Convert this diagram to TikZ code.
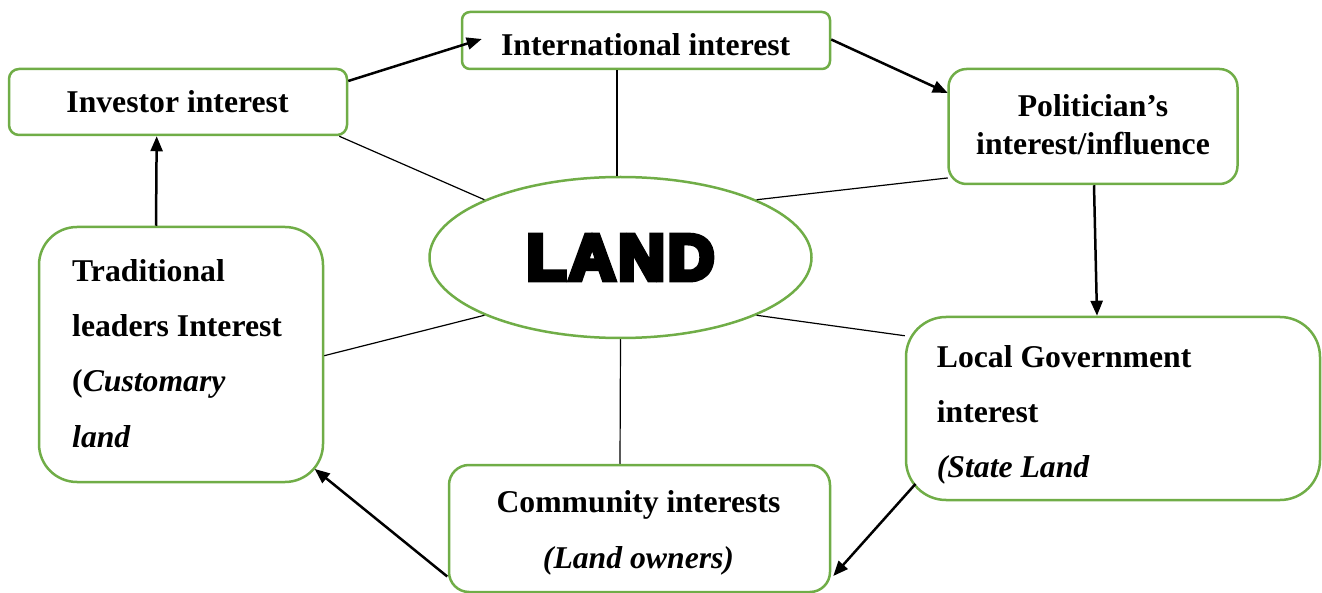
\documentclass[tikz,border=0pt]{standalone}
\usepackage{fontspec}
\setmainfont{Liberation Serif}
\newfontface\landfont{Liberation Sans Bold}[FakeBold=9,LetterSpace=5]
\usetikzlibrary{arrows.meta,shapes.geometric}
\definecolor{leaf}{HTML}{70AD47}
\begin{document}
\begin{tikzpicture}[x=1pt,y=-1pt,
  box/.style={draw=leaf, line width=2.5pt, fill=white, inner sep=0pt},
  lbl/.style={font=\fontsize{31.7}{38}\selectfont\bfseries, inner sep=0pt},
  flow/.style={line width=2.5pt, -{Triangle[length=15pt,width=12pt]}},
  spoke/.style={line width=1.2pt}]
\useasboundingbox (0,0) rectangle (1322,593);

% central ellipse
\node[box, ellipse, minimum width=382, minimum height=161] (land) at (620.5,257.5)
  {\fontsize{64}{70}\landfont LAND};

% interest boxes
\node[box, rounded corners=10pt, minimum width=338, minimum height=66] (inv) at (178,102) {};
\node[box, rounded corners=8pt, minimum width=368, minimum height=57] (intl) at (646,40.5) {};
\node[box, rounded corners=18pt, minimum width=289, minimum height=115] (pol) at (1093,126.5) {};
\node[box, rounded corners=40pt, minimum width=414, minimum height=183] (loc) at (1113,408.5) {};
\node[box, rounded corners=20pt, minimum width=381, minimum height=127] (com) at (639.5,528.5) {};
\node[box, rounded corners=38pt, minimum width=284, minimum height=255] (trad) at (181,354.5) {};

% labels
\node[lbl, anchor=base] (invtxt) at (177.5,113) {Investor interest};
\node[lbl, anchor=base] (intltxt) at (645.7,56) {International interest};
\node[lbl, anchor=north, align=center] (poltxt) at (1093,94.6)
  {Politician’s\\interest/influence};
\node[lbl, anchor=north, align=center, font=\fontsize{31.7}{55.3}\selectfont\bfseries] (comtxt) at (638.5,490.8)
  {Community interests\\\textit{(Land owners)}};
\node[lbl, anchor=north west, align=left, font=\fontsize{31.7}{55.3}\selectfont\bfseries] (tradtxt) at (72,259.2)
  {Traditional\\leaders Interest\\(\textit{Customary}\\\textit{land}};
\node[lbl, anchor=north west, align=left, font=\fontsize{31.7}{55}\selectfont\bfseries] (loctxt) at (936.7,345.2)
  {Local Government\\interest\\\textit{(State Land}};

% spokes to the centre
\draw[spoke] ([shift={(-9,0)}]inv.south east) -- (land.157);
\draw[spoke] ([shift={(-29,0)}]intl.south) coordinate (intlfoot) -- (intlfoot |- land.north);
\draw[spoke] ([shift={(0.5,-7.3)}]pol.south west) -- (land.23);
\draw[spoke] ([shift={(0,1.2)}]trad.east) -- (land.203);
\draw[spoke] ([shift={(0,20)}]loc.north west) -- (land.337);
\draw[spoke] ([shift={(-19.5,0)}]com.north) -- (land.south);

% cycle of influence
\draw[flow] ([shift={(0,-21)}]inv.east) -- ([shift={(21,-1.5)}]intl.west);
\draw[flow] ([shift={(0,-1)}]intl.east) -- ([shift={(0.5,-33.5)}]pol.west);
\draw[flow] ([shift={(1,0)}]pol.south) -- ([shift={(-16,0)}]loc.north);
\draw[flow] ([shift={(10.7,-17.3)}]loc.south west) -- ([shift={(2,47.5)}]com.east);
\draw[flow] ([shift={(-0.5,48)}]com.west) -- ([shift={(-9.6,-14.3)}]trad.south east);
\draw[flow] ([shift={(-25,0)}]trad.north) -- ([shift={(-21.3,0)}]inv.south);
\end{tikzpicture}
\end{document}
